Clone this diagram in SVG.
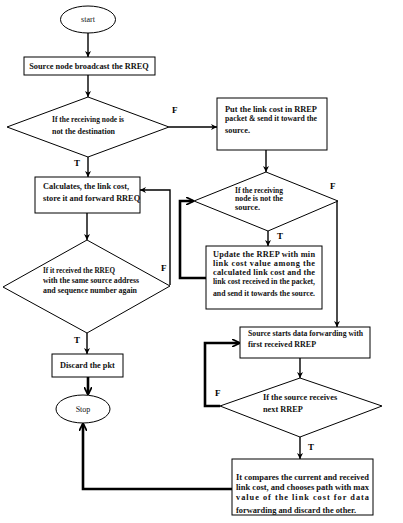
<svg xmlns="http://www.w3.org/2000/svg" width="403" height="523" viewBox="0 0 403 523">
<defs>
<marker id="ah" viewBox="0 0 10 10" refX="10" refY="5" markerWidth="6" markerHeight="6" markerUnits="userSpaceOnUse" orient="auto">
<path d="M0,0 L10,5 L0,10 L3,5 z" fill="#000"/>
</marker>
<marker id="ahb" viewBox="0 0 10 10" refX="9" refY="5" markerWidth="8" markerHeight="8" markerUnits="userSpaceOnUse" orient="auto">
<path d="M0,0 L10,5 L0,10" fill="none" stroke="#000" stroke-width="2.2"/>
</marker>
<style>
.s{fill:#fff;stroke:#000;stroke-width:1}
.t{font-family:"Liberation Serif","Times New Roman",serif;font-size:8.3px;font-weight:bold;fill:#111}
.n{font-family:"Liberation Serif","Times New Roman",serif;font-size:8px;fill:#111}
.l{font-family:"Liberation Serif","Times New Roman",serif;font-size:9px;font-weight:bold;fill:#000}
.c{fill:none;stroke:#000;stroke-width:1.4}
.k{fill:none;stroke:#000;stroke-width:2.6}
</style>
</defs>
<rect width="403" height="523" fill="#fff"/>
<g id="connectors">
<path class="c" d="M88,33 V57" marker-end="url(#ah)"/>
<path class="c" d="M88,75 V97" marker-end="url(#ah)"/>
<path class="c" d="M169,127 H217" marker-end="url(#ah)"/>
<path class="c" d="M88,157 V177" marker-end="url(#ah)"/>
<path class="c" d="M87,213 V240" marker-end="url(#ah)"/>
<path class="c" d="M170,285 V190 H140" marker-end="url(#ah)"/>
<path class="c" d="M87,333 V354" marker-end="url(#ah)"/>
<path class="k" d="M88,377 V394" marker-end="url(#ahb)"/>
<path class="k" d="M232,489 H83 V424" marker-end="url(#ahb)"/>
<path class="c" d="M266,150 V172" marker-end="url(#ah)"/>
<path class="c" d="M268,231 V246" marker-end="url(#ah)"/>
<path class="c" d="M337,201 V327" marker-end="url(#ah)"/>
<path class="k" d="M206,278 H180 V201 H193" marker-end="url(#ahb)"/>
<path class="c" d="M300,358 V378" marker-end="url(#ah)"/>
<path class="k" d="M220,406 H205 V343 H239" marker-end="url(#ahb)"/>
<path class="c" d="M300,437 V459" marker-end="url(#ah)"/>
<text class="l" x="172" y="113">F</text>
<text class="l" x="74" y="166">T</text>
<text class="l" x="161" y="271">F</text>
<text class="l" x="74" y="343">T</text>
<text class="l" x="330" y="189">F</text>
<text class="l" x="277" y="239">T</text>
<text class="l" x="215" y="396">F</text>
<text class="l" x="308" y="450">T</text>
</g>
<g id="start">
<ellipse class="s" cx="88" cy="19.5" rx="27.5" ry="13.5"/>
<text class="n" x="88" y="22" text-anchor="middle">start</text>
</g>
<g id="broadcast">
<rect class="s" x="24" y="57" width="131" height="18"/>
<text class="t" x="89" y="69" text-anchor="middle">Source node broadcast the RREQ</text>
</g>
<g id="dest-check">
<polygon class="s" points="88,97 169,127 88,157 7,127"/>
<text class="t" x="52" y="122" textLength="72" lengthAdjust="spacingAndGlyphs">If the receiving node is</text>
<text class="t" x="52" y="134" textLength="63" lengthAdjust="spacingAndGlyphs">not the destination</text>
</g>
<g id="calc">
<rect class="s" x="35" y="177" width="105" height="36"/>
<text class="t" x="43" y="189">Calculates, the link cost,</text>
<text class="t" x="43" y="201">store it and forward RREQ</text>
</g>
<g id="dup-check">
<polygon class="s" points="87,240 170,286 87,333 3,287"/>
<text class="t" x="43" y="273" textLength="72" lengthAdjust="spacingAndGlyphs">If it received the RREQ</text>
<text class="t" x="43" y="283" textLength="96" lengthAdjust="spacingAndGlyphs">with the same source address</text>
<text class="t" x="43" y="293" textLength="94" lengthAdjust="spacingAndGlyphs">and sequence number again</text>
</g>
<g id="discard">
<rect class="s" x="52" y="354" width="71" height="23"/>
<text class="t" x="60" y="368">Discard the pkt</text>
</g>
<g id="stop">
<ellipse class="s" cx="83" cy="409" rx="27" ry="14"/>
<text class="n" x="83" y="412" text-anchor="middle">Stop</text>
</g>
<g id="rrep">
<rect class="s" x="217" y="98" width="110" height="52"/>
<text class="t" x="225" y="112" textLength="92" lengthAdjust="spacingAndGlyphs">Put the link cost in RREP</text>
<text class="t" x="225" y="121" textLength="92" lengthAdjust="spacingAndGlyphs">packet &amp; send it toward the</text>
<text class="t" x="225" y="133">source.</text>
</g>
<g id="src-check">
<polygon class="s" points="266,172 338,201 268,231 194,201"/>
<text class="t" x="235" y="193" textLength="48" lengthAdjust="spacingAndGlyphs">If the receiving</text>
<text class="t" x="235" y="201" textLength="48" lengthAdjust="spacingAndGlyphs">node is not the</text>
<text class="t" x="235" y="210">source.</text>
</g>
<g id="update">
<rect class="s" x="206" y="246" width="116" height="63"/>
<text class="t" x="213" y="257" textLength="102" lengthAdjust="spacing">Update the RREP with min</text>
<text class="t" x="213" y="266" textLength="102" lengthAdjust="spacing">link cost value among the</text>
<text class="t" x="213" y="275" textLength="102" lengthAdjust="spacing">calculated link cost and the</text>
<text class="t" x="213" y="284" textLength="102" lengthAdjust="spacingAndGlyphs">link cost received in the packet,</text>
<text class="t" x="213" y="296" textLength="102" lengthAdjust="spacingAndGlyphs">and send it towards the source.</text>
</g>
<g id="forward">
<rect class="s" x="240" y="327" width="130" height="31"/>
<text class="t" x="248" y="336" textLength="115" lengthAdjust="spacingAndGlyphs">Source starts data forwarding with</text>
<text class="t" x="248" y="347" textLength="68" lengthAdjust="spacingAndGlyphs">first received RREP</text>
</g>
<g id="next-check">
<polygon class="s" points="300,378 382,406 300,437 220,406"/>
<text class="t" x="263" y="400">If the source receives</text>
<text class="t" x="263" y="412">next RREP</text>
</g>
<g id="compare">
<rect class="s" x="232" y="459" width="141" height="56"/>
<text class="t" x="236" y="480" textLength="133" lengthAdjust="spacingAndGlyphs">It compares the current and received</text>
<text class="t" x="236" y="490" textLength="133" lengthAdjust="spacingAndGlyphs">link cost, and chooses path with max</text>
<text class="t" x="236" y="500" textLength="133" lengthAdjust="spacing">value of the link cost for data</text>
<text class="t" x="236" y="513" textLength="120" lengthAdjust="spacingAndGlyphs">forwarding and discard the other.</text>
</g>
</svg>
